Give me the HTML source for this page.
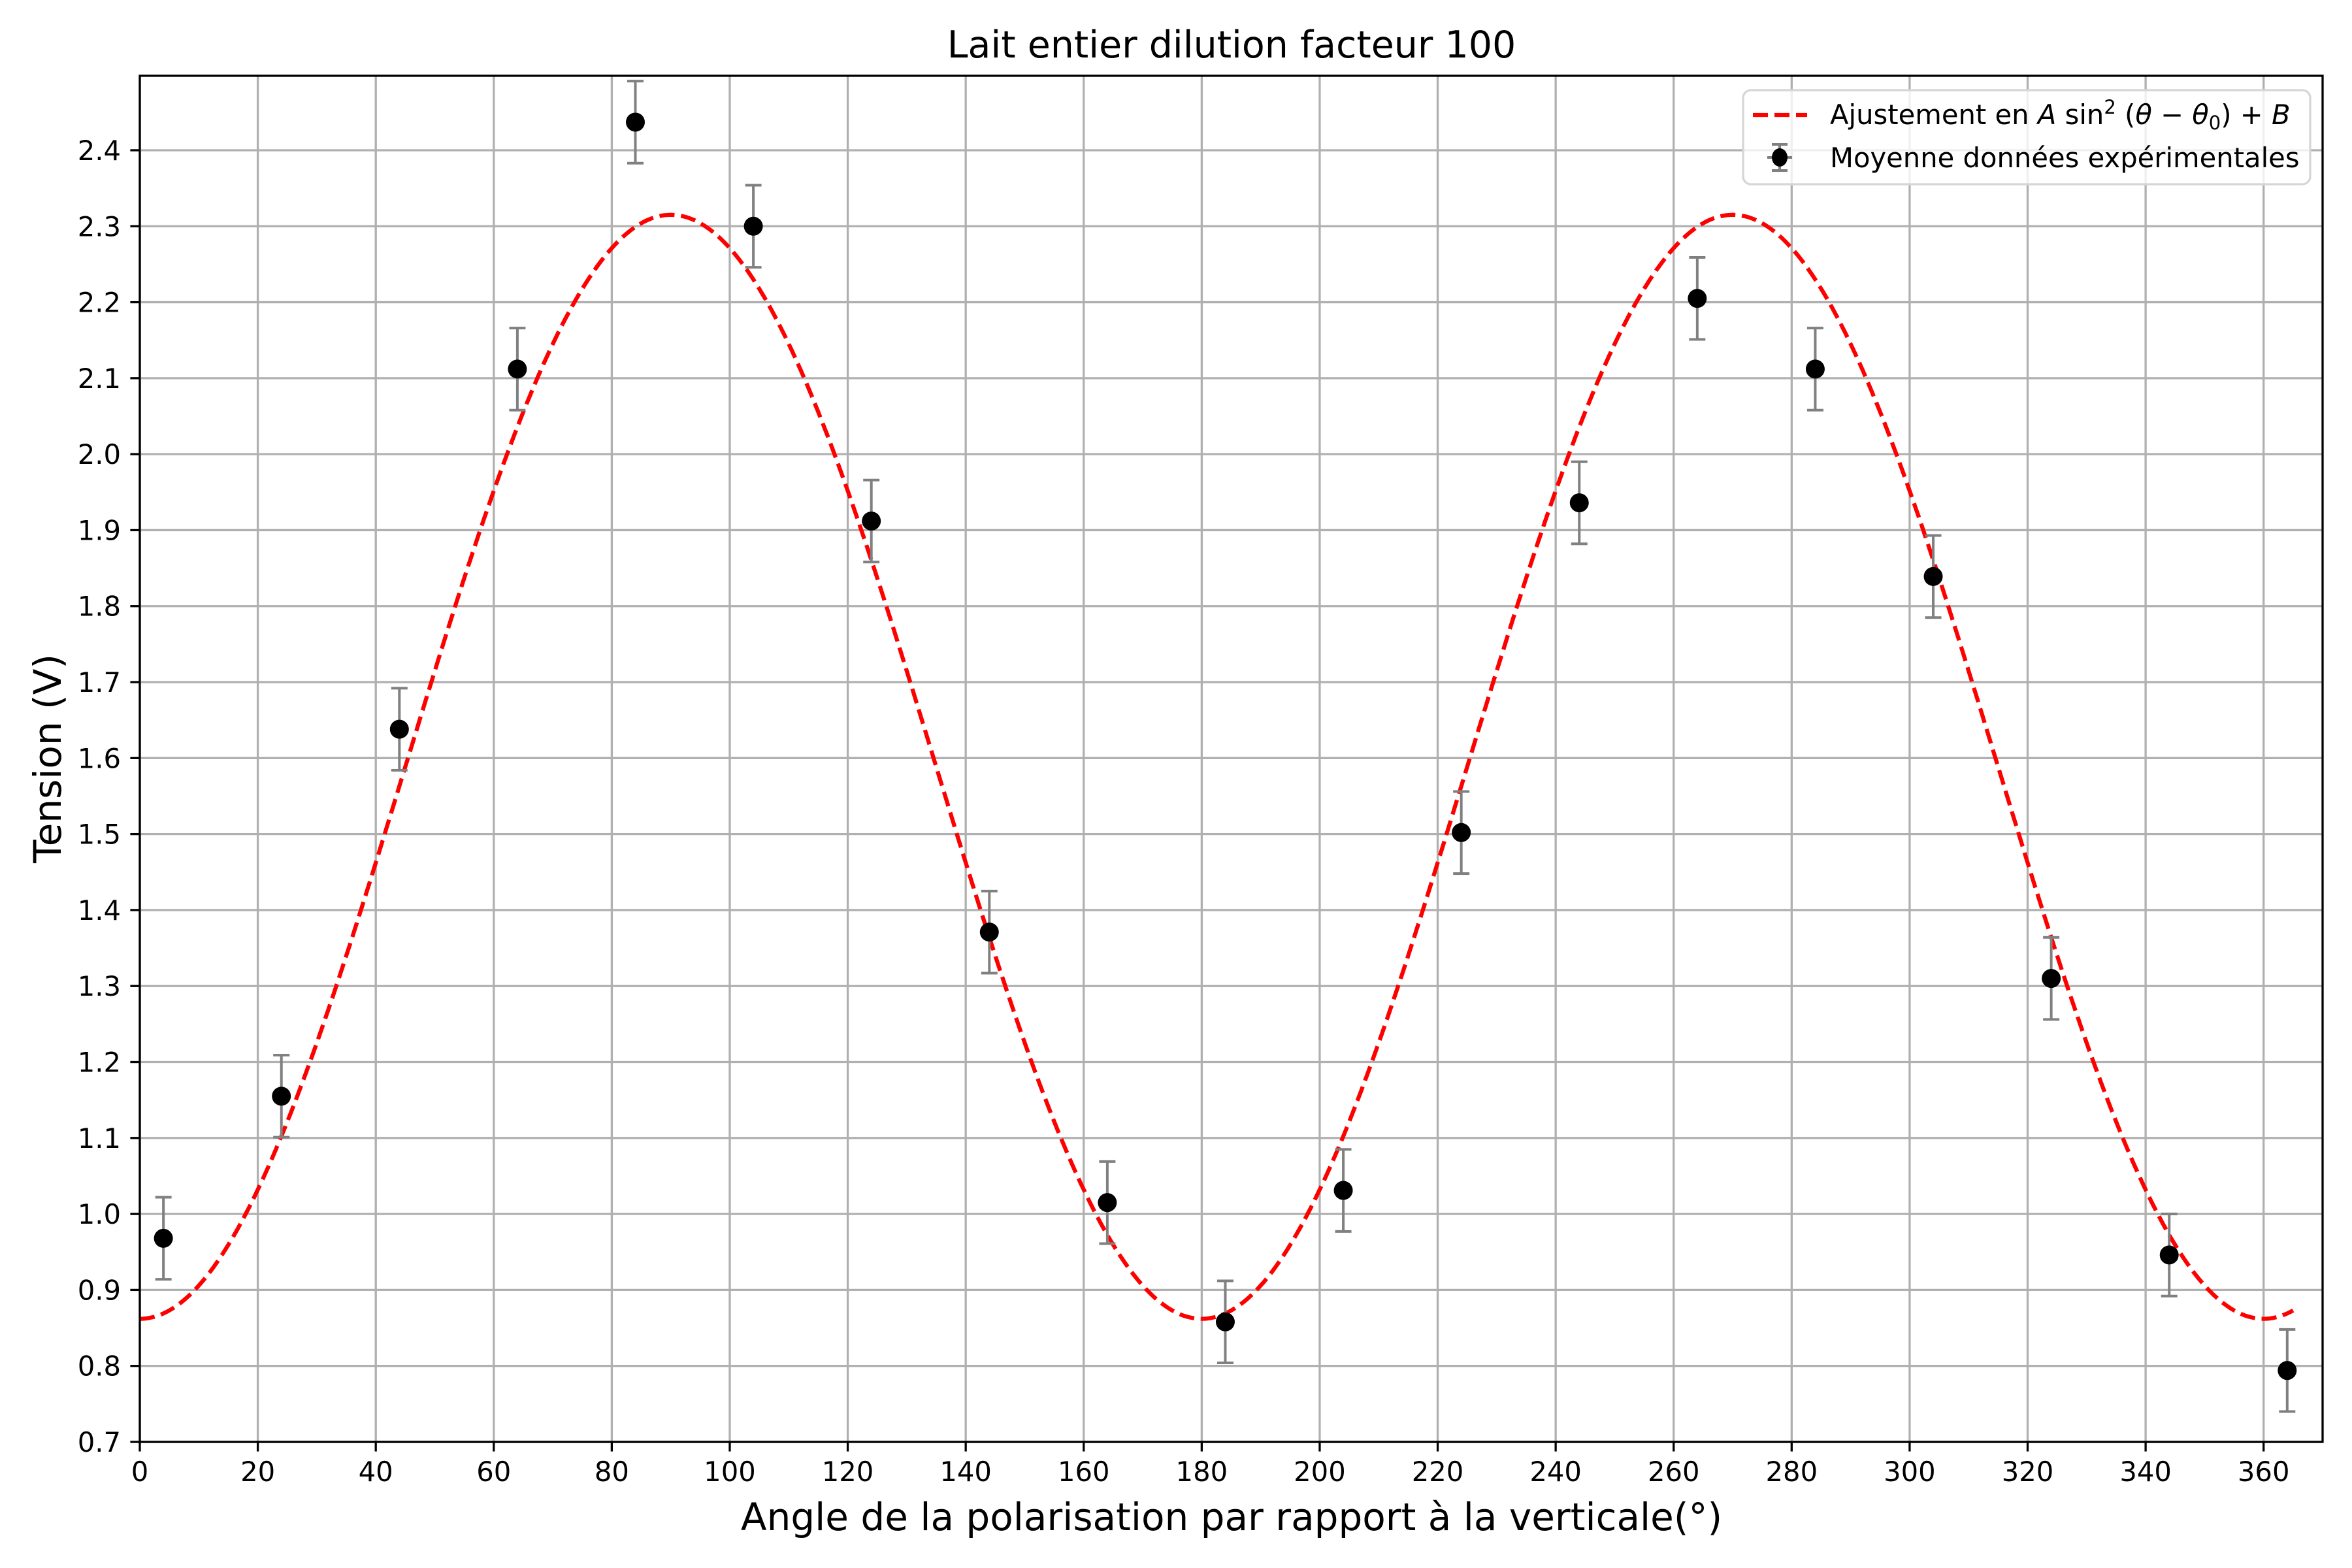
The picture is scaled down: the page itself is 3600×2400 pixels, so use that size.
<!DOCTYPE html>
<html><head><meta charset="utf-8"><style>
html,body{margin:0;padding:0;background:#fff;}
svg{display:block;font-family:"DejaVu Sans","Liberation Sans",sans-serif;}
</style></head><body>
<svg id="s" width="3600" height="2400" viewBox="0 0 3600 2400" xmlns="http://www.w3.org/2000/svg">
<rect width="3600" height="2400" fill="#fff"/>
<g id="grid"></g>
<g id="plot"></g>
<rect x="214" y="116" width="3341" height="2091" fill="none" stroke="#000" stroke-width="3.3"/>
<g id="ticks"></g>
<text x="1885" y="88" font-size="57" text-anchor="middle">Lait entier dilution facteur 100</text>
<text x="1885" y="2342" font-size="58" text-anchor="middle">Angle de la polarisation par rapport à la verticale(°)</text>
<text transform="translate(93,1161) rotate(-90)" font-size="58" text-anchor="middle">Tension (V)</text>
<g>
<rect x="2668" y="138" width="868" height="144" rx="12" fill="#fff" fill-opacity="0.8" stroke="#d6d6d6" stroke-width="3.3"/>
<line x1="2683" y1="176" x2="2766" y2="176" stroke="#f00" stroke-width="6.25" stroke-dasharray="23,10"/>
<text x="2801" y="190" font-size="41.7">Ajustement en <tspan font-style="italic">A</tspan> sin<tspan font-size="29" dy="-16">2</tspan><tspan dy="16"> (</tspan><tspan font-style="italic">θ</tspan> − <tspan font-style="italic">θ</tspan><tspan font-size="29" dy="8">0</tspan><tspan dy="-8">) + </tspan><tspan font-style="italic">B</tspan></text>
<line x1="2724" y1="221" x2="2724" y2="261" stroke="#808080" stroke-width="4"/>
<line x1="2712" y1="221" x2="2736" y2="221" stroke="#808080" stroke-width="4"/>
<line x1="2712" y1="261" x2="2736" y2="261" stroke="#808080" stroke-width="4"/>
<line x1="2705" y1="241" x2="2743" y2="241" stroke="#808080" stroke-width="4"/>
<ellipse cx="2724" cy="241" rx="12" ry="14" fill="#000"/>
<text x="2801" y="256" font-size="41.7">Moyenne données expérimentales</text>
</g>
</svg>
<script>
const X0=214,X1=3555,Y0=2207,Y1=116,xmax=370,ymin=0.7,ymax=2.498;
const fx=x=>X0+x*(X1-X0)/xmax, fy=y=>Y0-(y-ymin)*(Y0-Y1)/(ymax-ymin);
const ns="http://www.w3.org/2000/svg";
function el(p,t,a,txt){const e=document.createElementNS(ns,t);for(const k in a)e.setAttribute(k,a[k]);if(txt!==undefined)e.textContent=txt;document.getElementById(p).appendChild(e);return e;}
for(let x=0;x<=360;x+=20){const px=fx(x);
 el("grid","line",{x1:px,y1:Y1,x2:px,y2:Y0,stroke:"#b0b0b0","stroke-width":3.3});
 el("ticks","line",{x1:px,y1:Y0,x2:px,y2:Y0+14.6,stroke:"#000","stroke-width":3.3});
 el("ticks","text",{x:px,y:2267,"font-size":41.7,"text-anchor":"middle"},String(x));}
for(let i=7;i<=24;i++){const v=i/10,py=fy(v);
 el("grid","line",{x1:X0,y1:py,x2:X1,y2:py,stroke:"#b0b0b0","stroke-width":3.3});
 el("ticks","line",{x1:X0-14.6,y1:py,x2:X0,y2:py,stroke:"#000","stroke-width":3.3});
 el("ticks","text",{x:185,y:py+15,"font-size":41.7,"text-anchor":"end"},v.toFixed(1));}
let d="";for(let t=0;t<=365;t+=0.5){const y=0.862+1.453*Math.pow(Math.sin(t*Math.PI/180),2);d+=(t?"L":"M")+fx(t).toFixed(1)+","+fy(y).toFixed(1);}
el("plot","path",{d:d,fill:"none",stroke:"#f00","stroke-width":6.25,"stroke-dasharray":"23,10"});
const ys=[0.968,1.155,1.638,2.112,2.437,2.300,1.912,1.371,1.015,0.858,1.031,1.502,1.936,2.205,2.112,1.839,1.310,0.946,0.794];
ys.forEach((v,i)=>{const px=fx(4+20*i),a=fy(v+0.054),b=fy(v-0.054);
 el("plot","line",{x1:px,y1:a,x2:px,y2:b,stroke:"#808080","stroke-width":4});
 el("plot","line",{x1:px-12.5,y1:a,x2:px+12.5,y2:a,stroke:"#808080","stroke-width":4});
 el("plot","line",{x1:px-12.5,y1:b,x2:px+12.5,y2:b,stroke:"#808080","stroke-width":4});
 el("plot","circle",{cx:px,cy:fy(v),r:14.5,fill:"#000"});});
</script>
</body></html>
